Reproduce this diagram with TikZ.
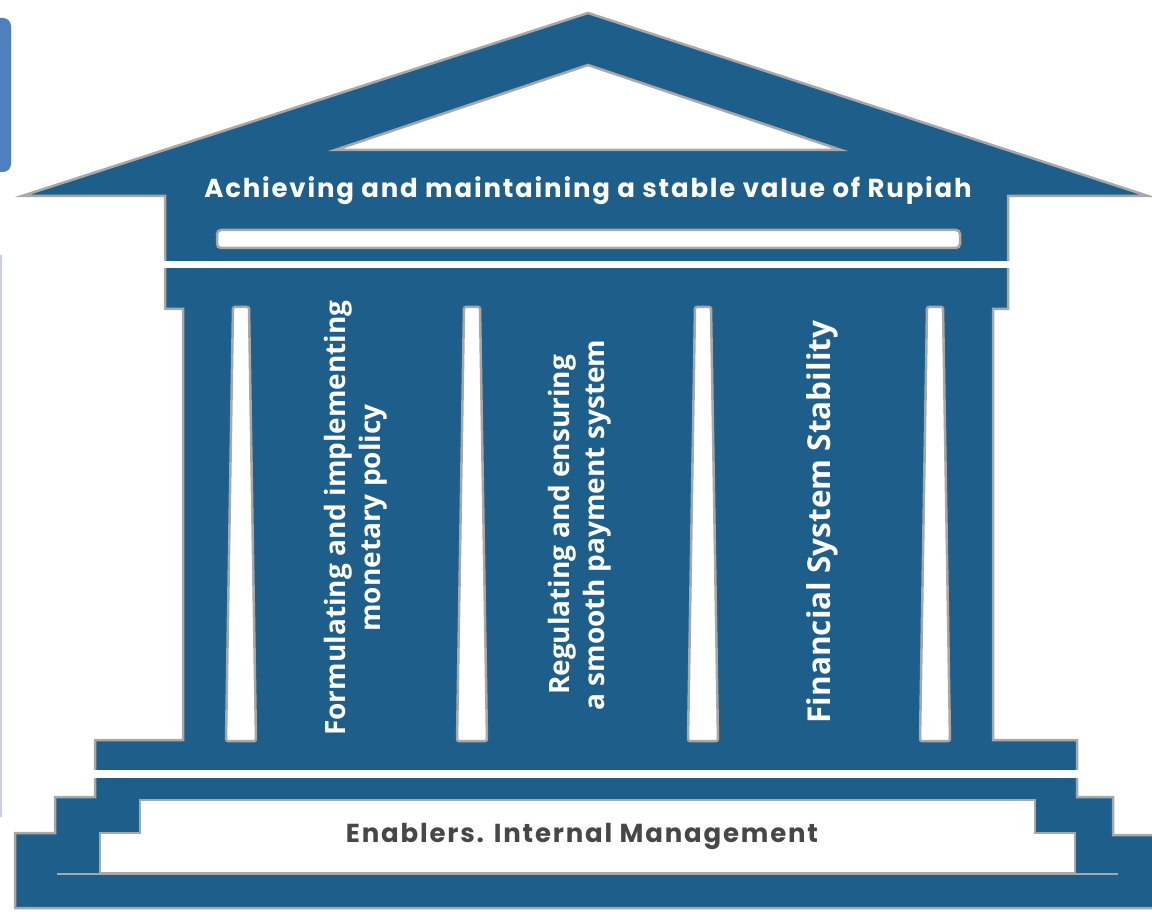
\documentclass[tikz,border=0pt]{standalone}
\usepackage{fontspec}
\newfontfamily\headfont{Poppins}[LetterSpace=7]
\newfontfamily\pillarfont{Open Sans}
\definecolor{templeblue}{HTML}{1D5E8A}
\definecolor{shadegray}{HTML}{A8A8A8}
\definecolor{tabblue}{HTML}{4F7FBE}
\definecolor{edgeline}{HTML}{C9CDEA}
\tikzset{
  block/.style={fill=templeblue, draw=shadegray, line width=2.5pt},
  hole/.style={fill=white, draw=shadegray, line width=2.5pt},
  roof/.style={text=white, font=\headfont\bfseries\fontsize{26}{30}\selectfont},
  pillar/.style={text=white, rotate=90, align=center,
    font=\pillarfont\bfseries\fontsize{28}{35}\selectfont},
  floor/.style={text=black!72, font=\headfont\bfseries\fontsize{26}{30}\selectfont}
}
\begin{document}
\begin{tikzpicture}[x=1pt, y=-1pt]
\useasboundingbox (0,0) rectangle (1152,912);

% side marks
\fill[tabblue, rounded corners=8pt] (-12,18) rectangle (11,172);
\draw[edgeline, line width=2pt] (1,255) -- (1,817);

% building
\draw[block] (22,196) -- (588,13) -- (1148,196) -- (1008,196) -- (1008,309)
  -- (993,309) -- (993,740) -- (1077,740) -- (1077,797) -- (1113,797)
  -- (1113,835) -- (1160,835) -- (1160,908) -- (15,908) -- (15,833)
  -- (55,833) -- (55,797) -- (95,797) -- (95,740) -- (183,740) -- (183,309)
  -- (165,309) -- (165,196) -- cycle;
\draw[hole] (335,150) -- (588,65) -- (841,150) -- cycle;
\draw[hole, rounded corners=4pt] (217,230) rectangle (960,248);
\fill[white] (158,261) rectangle (1018,268);
\fill[white] (88,770) rectangle (1082,778);

% pillars
\foreach \x in {241,472,703,935}
  \draw[hole, rounded corners=2pt] (\x-8,307) -- (\x+8,307) -- (\x+15,741) -- (\x-15,741) -- cycle;

% base
\draw[shadegray, line width=2.5pt] (57,874) -- (1118,874);
\draw[hole] (140,800) -- (1035,800) -- (1035,833) -- (1075,833) -- (1075,873)
  -- (100,873) -- (100,833) -- (140,833) -- cycle;

% labels
\node[roof] (goal) at (588,191) {Achieving and maintaining a stable value of Rupiah};
\node[pillar] (monetary) at (356,518) {Formulating and implementing\\monetary policy};
\node[pillar] (payment) at (580,525) {Regulating and ensuring\\a smooth payment system};
\node[pillar, font=\pillarfont\bfseries\fontsize{31.5}{35}\selectfont] (stability) at (822,522) {Financial System Stability};
\node[floor] (enablers) at (582,836) {Enablers. Internal Management};

\end{tikzpicture}
\end{document}
